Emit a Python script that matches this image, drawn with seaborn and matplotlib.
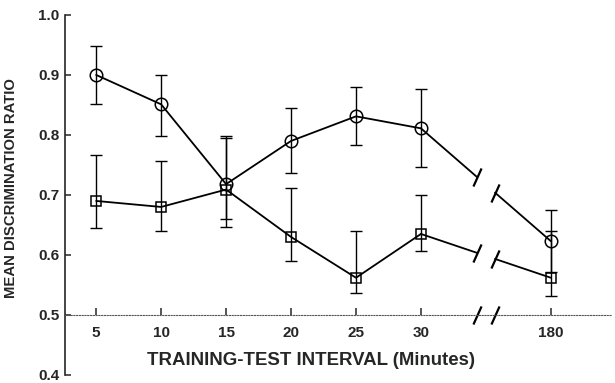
import numpy as np
import matplotlib
matplotlib.use("Agg")
import matplotlib.pyplot as plt
import seaborn as sns

# ---------- data ----------
intervals = ["5", "10", "15", "20", "25", "30", "180"]
x_pos = np.array([0, 1, 2, 3, 4, 5, 7])   # gap before 180 for the axis break

circle_mean = np.array([0.900, 0.851, 0.718, 0.790, 0.831, 0.811, 0.623])
circle_hi = np.array([0.948, 0.900, 0.798, 0.845, 0.880, 0.876, 0.675])
circle_lo = np.array([0.852, 0.798, 0.660, 0.737, 0.783, 0.746, 0.572])

square_mean = np.array([0.690, 0.680, 0.709, 0.630, 0.562, 0.635, 0.562])
square_hi = np.array([0.766, 0.756, 0.795, 0.712, 0.640, 0.700, 0.640])
square_lo = np.array([0.645, 0.640, 0.646, 0.590, 0.537, 0.606, 0.531])

sns.set_style("ticks")
plt.rcParams["font.family"] = ["Liberation Sans", "DejaVu Sans"]
plt.rcParams["font.weight"] = "bold"
plt.rcParams["xtick.direction"] = "in"
plt.rcParams["ytick.direction"] = "in"

fig = plt.figure(figsize=(6.15, 3.83), dpi=100)
ax = fig.add_axes([0.106, 0.021, 0.889, 0.940])

slash = [(-0.45, -1.0), (0.45, 1.0)]


def draw_series(mean, lo, hi, marker, msize):
    # connected part (5..30 min)
    sns.lineplot(x=x_pos[:6], y=mean[:6], ax=ax, color="black", lw=1.3,
                 marker=marker, markersize=msize, markerfacecolor="none",
                 markeredgecolor="black", markeredgewidth=1.1)
    ax.errorbar(x_pos, mean, yerr=[mean - lo, hi - mean], fmt="none",
                ecolor="black", elinewidth=1.0, capsize=4, capthick=1.0)
    # broken segment 30 -> 180
    x0, x1 = x_pos[5], x_pos[6]
    y0, y1 = mean[5], mean[6]
    for a, b in [(0.0, 0.43), (0.57, 1.0)]:
        ax.plot([x0 + a * (x1 - x0), x0 + b * (x1 - x0)],
                [y0 + a * (y1 - y0), y0 + b * (y1 - y0)], color="black", lw=1.3)
    for f in (0.43, 0.57):
        ax.plot(x0 + f * (x1 - x0), y0 + f * (y1 - y0), marker=slash,
                markersize=13, color="black", markeredgewidth=1.6)
    ax.plot(x_pos[6], mean[6], marker=marker, markersize=msize,
            markerfacecolor="none", markeredgecolor="black", markeredgewidth=1.1)


draw_series(circle_mean, circle_lo, circle_hi, "o", 9)
draw_series(square_mean, square_lo, square_hi, "s", 6.5)

ax.set_xlim(-0.477, 7.94)
ax.set_ylim(0.4, 1.0)
ax.set_yticks([0.4, 0.5, 0.6, 0.7, 0.8, 0.9, 1.0])
ax.set_yticklabels(["0.4", "0.5", "0.6", "0.7", "0.8", "0.9", "1.0"])
ax.set_xticks(x_pos)
ax.set_xticklabels(intervals)

ax.spines["top"].set_visible(False)
ax.spines["right"].set_visible(False)
ax.spines["bottom"].set_position(("data", 0.5))
ax.spines["bottom"].set_linestyle((0, (1, 1.5)))
ax.spines["bottom"].set_linewidth(0.8)
ax.spines["bottom"].set_color("#555555")
ax.spines["left"].set_linewidth(1.2)

ax.tick_params(axis="y", direction="in", length=4, width=1.1,
               labelsize=11, pad=4)
ax.tick_params(axis="x", direction="in", length=5, width=1.1,
               labelsize=11, pad=8)

# axis break marks on the x axis
for xb in (5.86, 6.14):
    ax.plot(xb, 0.5, marker=slash, markersize=13, color="black",
            markeredgewidth=1.6, clip_on=False)

ax.set_ylabel("MEAN DISCRIMINATION RATIO", fontsize=10.7, fontweight="bold")
ax.yaxis.set_label_coords(-0.087, 0.52)
ax.set_xlabel("TRAINING-TEST INTERVAL (Minutes)", fontsize=13.4,
              fontweight="bold")
ax.xaxis.set_label_coords(0.45, 0.065)

plt.savefig("out.png", dpi=100)
plt.close()
